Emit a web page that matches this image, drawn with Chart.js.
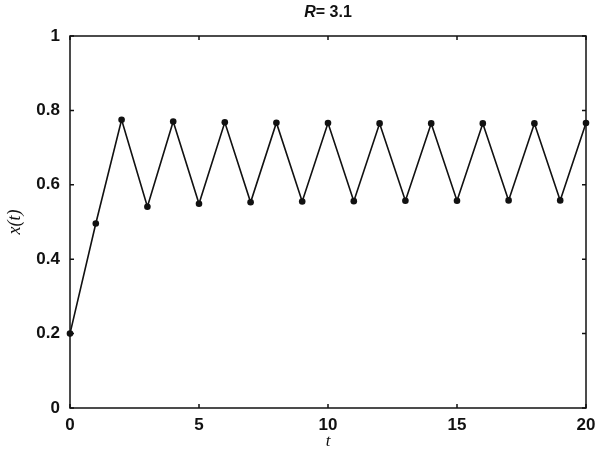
<!DOCTYPE html>
<html>
<head>
<meta charset="utf-8">
<script src="https://cdn.jsdelivr.net/npm/chart.js@4"></script>
<style>
  html, body { margin: 0; padding: 0; background: #fff; }
  #wrap { width: 600px; height: 454px; }
</style>
</head>
<body>
<div id="wrap"><canvas id="chart" width="600" height="454"></canvas></div>
<script>
// logistic map, R = 3.1
const steps = [0, 1, 2, 3, 4, 5, 6, 7, 8, 9, 10, 11, 12, 13, 14, 15, 16, 17, 18, 19, 20];
const xValues = [0.2, 0.496, 0.775, 0.541, 0.770, 0.549, 0.768, 0.553, 0.767, 0.555, 0.766,
                 0.556, 0.765, 0.557, 0.765, 0.557, 0.765, 0.558, 0.765, 0.558, 0.766];
const xTicks = [0, 5, 10, 15, 20];
const yTicks = [0, 0.2, 0.4, 0.6, 0.8, 1];

const tickFont = { family: "'Liberation Sans', Arial, sans-serif", size: 17, weight: 'bold' };

// box around plot + inward tick marks on all sides, plus title
const framePlugin = {
  id: 'frame',
  afterDraw(chart) {
    const { ctx, chartArea: a, scales } = chart;
    ctx.save();
    ctx.strokeStyle = '#111';
    ctx.lineWidth = 1.5;
    ctx.strokeRect(a.left, a.top, a.right - a.left, a.bottom - a.top);
    const len = 4;
    ctx.beginPath();
    xTicks.forEach(v => {
      const px = scales.x.getPixelForValue(v);
      ctx.moveTo(px, a.bottom); ctx.lineTo(px, a.bottom - len);
      ctx.moveTo(px, a.top); ctx.lineTo(px, a.top + len);
    });
    yTicks.forEach(v => {
      const py = scales.y.getPixelForValue(v);
      ctx.moveTo(a.left, py); ctx.lineTo(a.left + len, py);
      ctx.moveTo(a.right, py); ctx.lineTo(a.right - len, py);
    });
    ctx.stroke();

    // title "R= 3.1" with italic R
    const cx = (a.left + a.right) / 2;
    ctx.fillStyle = '#111';
    ctx.textBaseline = 'middle';
    ctx.font = "italic bold 16px 'Liberation Sans', Arial, sans-serif";
    const w1 = ctx.measureText('R').width;
    ctx.font = "bold 16px 'Liberation Sans', Arial, sans-serif";
    const w2 = ctx.measureText('= 3.1').width;
    let x0 = cx - (w1 + w2) / 2;
    ctx.font = "italic bold 16px 'Liberation Sans', Arial, sans-serif";
    ctx.fillText('R', x0, 13);
    ctx.font = "bold 16px 'Liberation Sans', Arial, sans-serif";
    ctx.fillText('= 3.1', x0 + w1, 13);
    ctx.restore();
  }
};

const points = steps.map((t, i) => ({ x: t, y: xValues[i] }));

new Chart(document.getElementById('chart'), {
  type: 'line',
  data: {
    datasets: [{
      data: points,
      borderColor: '#111',
      borderWidth: 1.6,
      backgroundColor: '#111',
      pointRadius: 3.3,
      pointBorderWidth: 0,
      pointBackgroundColor: '#111',
      tension: 0,
      clip: false
    }]
  },
  options: {
    responsive: false,
    animation: false,
    layout: { padding: { top: 36, right: 14, left: 0, bottom: 0 } },
    plugins: { legend: { display: false }, tooltip: { enabled: false } },
    scales: {
      x: {
        type: 'linear',
        min: 0, max: 20,
        afterBuildTicks: s => { s.ticks = xTicks.map(v => ({ value: v })); },
        afterFit: s => { s.height = 46; s.paddingLeft = 0; s.paddingRight = 0; },
        grid: { display: false, drawTicks: false },
        border: { display: false },
        ticks: { color: '#111', font: tickFont, padding: 7, maxRotation: 0 },
        title: {
          display: true, text: 't', color: '#111',
          font: { family: "'Liberation Serif', 'Times New Roman', serif", size: 17, style: 'italic' },
          padding: { top: 0, bottom: 2 }
        }
      },
      y: {
        min: 0, max: 1,
        afterBuildTicks: s => { s.ticks = yTicks.map(v => ({ value: v })); },
        afterFit: s => { s.width = 70; s.paddingTop = 0; s.paddingBottom = 0; },
        grid: { display: false, drawTicks: false },
        border: { display: false },
        ticks: { color: '#111', font: tickFont, padding: 10, callback: v => String(v) },
        title: {
          display: true, text: 'x(t)', color: '#111',
          font: { family: "'Liberation Serif', 'Times New Roman', serif", size: 18, style: 'italic' },
          padding: { top: 4, bottom: 0 }
        }
      }
    }
  },
  plugins: [framePlugin]
});
</script>
</body>
</html>
